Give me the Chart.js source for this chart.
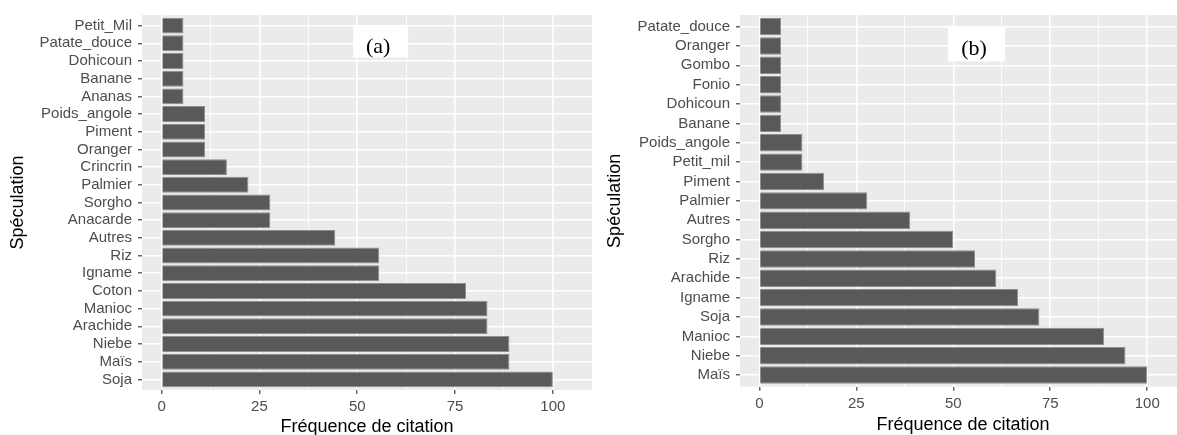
<!DOCTYPE html>
<html>
<head>
<meta charset="utf-8">
<script src="https://cdn.jsdelivr.net/npm/chart.js@4.4.1/dist/chart.umd.min.js"></script>
<style>
  html, body { margin: 0; padding: 0; background: #fff; width: 1177px; height: 435px; overflow: hidden; position: relative; }
  canvas { position: absolute; top: 0; }
  #chartA { left: 0; }
  #chartB { left: 598px; }
</style>
</head>
<body>
<canvas id="chartA" width="600" height="450"></canvas>
<canvas id="chartB" width="600" height="450"></canvas>
<script>
// Panel (a): citation frequency per crop, listed top to bottom
const categoriesA = ['Petit_Mil', 'Patate_douce', 'Dohicoun', 'Banane', 'Ananas', 'Poids_angole', 'Piment',
  'Oranger', 'Crincrin', 'Palmier', 'Sorgho', 'Anacarde', 'Autres', 'Riz', 'Igname', 'Coton', 'Manioc',
  'Arachide', 'Niebe', 'Maïs', 'Soja'];
const valuesA = [5.6, 5.6, 5.6, 5.6, 5.6, 11.1, 11.1, 11.1, 16.7, 22.2, 27.8, 27.8, 44.4, 55.6, 55.6, 77.8,
  83.3, 83.3, 88.9, 88.9, 100];

// Panel (b)
const categoriesB = ['Patate_douce', 'Oranger', 'Gombo', 'Fonio', 'Dohicoun', 'Banane', 'Poids_angole',
  'Petit_mil', 'Piment', 'Palmier', 'Autres', 'Sorgho', 'Riz', 'Arachide', 'Igname', 'Soja', 'Manioc',
  'Niebe', 'Maïs'];
const valuesB = [5.6, 5.6, 5.6, 5.6, 5.6, 5.6, 11.1, 11.1, 16.7, 27.8, 38.9, 50, 55.6, 61.1, 66.7, 72.2,
  88.9, 94.4, 100];

// Frequency axis ticks
const majorTicks = [0, 25, 50, 75, 100];
const minorTicks = [12.5, 37.5, 62.5, 87.5];

const xTitle = 'Fréquence de citation';
const yTitle = 'Spéculation';

Chart.defaults.font.family = '"Liberation Sans", Arial, sans-serif';

// Grey panel behind the grid, plus the white panel tag
const panelDecor = {
  id: 'panelDecor',
  beforeDraw(chart) {
    const { ctx, chartArea: a } = chart;
    ctx.save();
    ctx.fillStyle = '#EBEBEB';
    ctx.fillRect(a.left, a.top, a.right - a.left, a.bottom - a.top);
    ctx.restore();
  },
  afterDatasetsDraw(chart, args, opts) {
    if (!opts || !opts.text) return;
    const { ctx, scales: { x, y } } = chart;
    const cx = x.getPixelForValue(opts.x);
    const cy = y.getPixelForValue(opts.y);
    ctx.save();
    ctx.fillStyle = '#FFFFFF';
    ctx.fillRect(cx - opts.w / 2, cy - opts.h / 2, opts.w, opts.h);
    ctx.fillStyle = '#000000';
    ctx.font = '22px "Liberation Serif", "Times New Roman", serif';
    ctx.textAlign = 'center';
    ctx.textBaseline = 'middle';
    ctx.fillText(opts.text, cx - 2.5, cy + 5);
    ctx.restore();
  }
};

function makePanel(id, categories, values, cfg) {
  const n = categories.length;
  const isMajor = v => majorTicks.includes(v);
  return new Chart(document.getElementById(id), {
    type: 'bar',
    data: {
      datasets: [{
        data: categories.map((c, i) => ({ x: values[i], y: n - i })),
        backgroundColor: '#595959',
        borderColor: '#8E8E8E',
        borderWidth: 1,
        categoryPercentage: 0.9,
        barPercentage: 1.0
      }]
    },
    options: {
      indexAxis: 'y',
      responsive: false,
      animation: false,
      devicePixelRatio: 1,
      layout: { padding: { top: cfg.top, right: cfg.right, left: 0, bottom: 0 } },
      plugins: {
        legend: { display: false },
        tooltip: { enabled: false },
        panelDecor: { text: cfg.tag, x: 56, y: n - 0.92, w: cfg.tagW, h: cfg.tagH }
      },
      scales: {
        x: {
          type: 'linear',
          min: -5,
          max: 110,
          afterFit: s => { s.height = cfg.xAxisHeight; },
          afterBuildTicks: s => {
            s.ticks = [...majorTicks, ...minorTicks].sort((a, b) => a - b).map(v => ({ value: v }));
          },
          ticks: {
            autoSkip: false,
            maxRotation: 0,
            minRotation: 0,
            padding: 4,
            color: '#4D4D4D',
            font: { size: 15 },
            callback: v => (isMajor(v) ? String(v) : '')
          },
          grid: {
            color: '#FFFFFF',
            lineWidth: c => (c.tick && isMajor(c.tick.value) ? 1.6 : 0.8),
            drawTicks: true,
            tickLength: 4,
            tickWidth: 1.1,
            tickColor: c => (c.tick && isMajor(c.tick.value) ? '#333333' : 'rgba(0,0,0,0)')
          },
          border: { display: false },
          title: {
            display: true,
            text: xTitle,
            color: '#000000',
            font: { size: 18, lineHeight: 1 },
            padding: { top: 0, bottom: cfg.xTitlePad }
          }
        },
        y: {
          type: 'linear',
          offset: false,
          min: 0.4,
          max: n + 0.6,
          afterFit: s => { s.width = 142; },
          afterBuildTicks: s => {
            s.ticks = categories.map((c, i) => ({ value: i + 1 }));
          },
          ticks: {
            autoSkip: false,
            padding: 6,
            color: '#4D4D4D',
            font: { size: 15 },
            callback: v => categories[n - v]
          },
          grid: {
            offset: false,
            color: '#FFFFFF',
            lineWidth: 1.6,
            drawTicks: true,
            tickLength: 4,
            tickWidth: 1.1,
            tickColor: '#333333'
          },
          border: { display: false },
          title: {
            display: true,
            text: yTitle,
            color: '#000000',
            font: { size: 18, lineHeight: 1 },
            padding: { top: cfg.yTitlePad, bottom: 0 }
          }
        }
      }
    },
    plugins: [panelDecor]
  });
}

makePanel('chartA', categoriesA, valuesA, {
  tag: '(a)', tagW: 55, tagH: 31,
  top: 10, right: 8, xAxisHeight: 60, xTitlePad: 14, yTitlePad: 9
});

makePanel('chartB', categoriesB, valuesB, {
  tag: '(b)', tagW: 57, tagH: 34,
  top: 10.3, right: 12, xAxisHeight: 63.3, xTitlePad: 15.7, yTitlePad: 8
});
</script>
</body>
</html>
